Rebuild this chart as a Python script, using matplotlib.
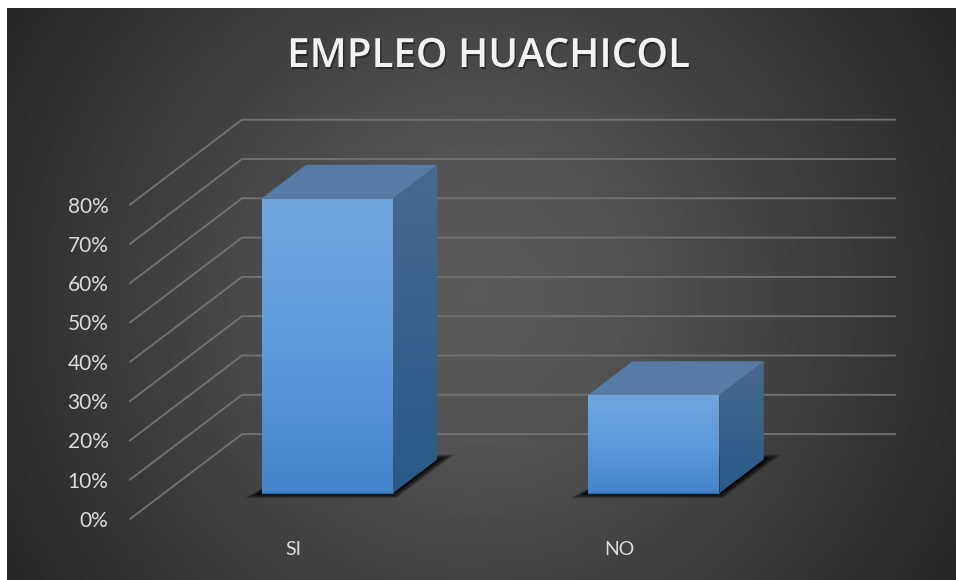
import numpy as np
from matplotlib import pyplot as plt
from matplotlib.colors import to_rgb
from matplotlib.patches import Polygon
from matplotlib import patheffects as pe

categories = ['SI', 'NO']
values = [75, 25]
title = 'EMPLEO HUACHICOL'
value_ticks = [0, 10, 20, 30, 40, 50, 60, 70, 80]
value_labels = ['0%', '10%', '20%', '30%', '40%', '50%', '60%', '70%', '80%']

W, H = 956, 580
# 3d look: the wall sits one depth unit behind the front plane
DEPTH_X = 0.343
DEPTH_Y = 21.6
BAR_WIDTH = 0.402
BAR_FRONT = 0.303
BAR_BACK = 0.70


def project(x, value, depth):
    return x + depth * DEPTH_X, value + depth * DEPTH_Y


def gradient_face(ax, corners, colors, zorder):
    corners = np.array(corners)
    stops = np.array([to_rgb(c) for c in colors])
    t = np.linspace(0, 1, 64)
    pos = np.linspace(0, 1, len(colors))
    img = np.stack([np.interp(t, pos, stops[:, i]) for i in range(3)], axis=1)[:, None, :]
    im = ax.imshow(img, aspect='auto', origin='upper', zorder=zorder, interpolation='bilinear',
                   extent=[corners[:, 0].min(), corners[:, 0].max(), corners[:, 1].min(), corners[:, 1].max()])
    clip = Polygon(corners, transform=ax.transData, facecolor='none', edgecolor='none')
    ax.add_patch(clip)
    im.set_clip_path(clip)


fig = plt.figure(figsize=(W / 100, H / 100), dpi=100, facecolor='white')

# background panel with radial gradient
bg = fig.add_axes([7 / W, 0, (W - 7) / W, 572 / H])
bg.axis('off')
yy, xx = np.mgrid[8:580:286j, 7:956:475j]
r = np.hypot(xx - 478, yy - 295) / 550
grey = np.interp(r, [0, 0.25, 0.5, 0.85, 1.0], [0x5b, 0x54, 0x45, 0x30, 0x26]) / 255
bg.imshow(grey, cmap='gray', vmin=0, vmax=1, aspect='auto', interpolation='bilinear')

ax = fig.add_axes([130 / W, 1 - 519 / H, 765 / W, 400 / H])
ax.patch.set_alpha(0)
for s in ax.spines.values():
    s.set_visible(False)

xmax = 765 / 326.5
ymax = 400 / 3.93

# wall and side gridlines
grid = '#727272'
for v in value_ticks:
    ax.plot([0, DEPTH_X, xmax], [v, v + DEPTH_Y, v + DEPTH_Y], color=grid, lw=1.35, zorder=1,
            solid_joinstyle='miter', clip_on=False)

for i, v in enumerate(values):
    x0 = i + 0.5 - BAR_WIDTH / 2
    x1 = i + 0.5 + BAR_WIDTH / 2
    fl, bl = project(x0, 0, BAR_FRONT), project(x0, 0, BAR_BACK)
    fr, br = project(x1, 0, BAR_FRONT), project(x1, 0, BAR_BACK)
    ftl, ftr = project(x0, v, BAR_FRONT), project(x1, v, BAR_FRONT)
    btl, btr = project(x0, v, BAR_BACK), project(x1, v, BAR_BACK)

    # soft floor shadow
    for k in np.linspace(1, 0.02, 40) ** 1.6:
        ex, ey = 0.055 * k, 1.3 * k
        ax.add_patch(Polygon([(fl[0] - ex, fl[1] - ey), (fr[0] + ex * 0.2, fr[1] - ey),
                              (br[0] + ex, br[1] + ey), (bl[0] + ex, bl[1] + ey)],
                             facecolor='black', edgecolor='none', alpha=0.05, zorder=2))

    gradient_face(ax, [fl, fr, ftr, ftl], ['#70a6de', '#5c9bdc', '#4484ca'], 4)
    gradient_face(ax, [fr, br, btr, ftr], ['#47698f', '#2a5a88'], 3)
    ax.add_patch(Polygon([ftl, ftr, btr, btl], facecolor='#587ba5', edgecolor='none', zorder=3))
    ax.plot([fl[0], fr[0]], [fl[1], fr[1]], color='#2f6498', lw=1, zorder=5)

ax.set_xlim(0, xmax)
ax.set_ylim(0, ymax)
ax.set_yticks(value_ticks)
ax.set_yticklabels(value_labels, family='Lato', fontsize=15, color='#dcdcdc')
ax.set_xticks([0.5, 1.5])
ax.set_xticklabels(categories, family='Lato', fontsize=14, color='#dcdcdc')
ax.tick_params(axis='y', length=0, pad=15.5)
ax.tick_params(axis='x', length=0, pad=15.5)

t = fig.text(488 / W, 1 - 57 / H, title, family='Open Sans', fontweight='semibold', fontsize=29,
             color='#f2f2f2', ha='center', va='center')
t.set_path_effects([pe.withSimplePatchShadow(offset=(1, -1.5), shadow_rgbFace='black', alpha=0.4)])

fig.savefig('out.png', dpi=100, facecolor='white')
